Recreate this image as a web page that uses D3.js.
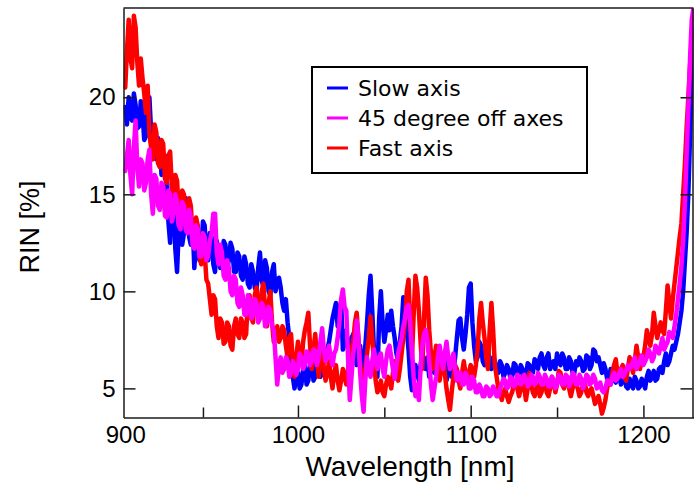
<!DOCTYPE html>
<html>
<head>
<meta charset="utf-8">
<script src="https://cdn.jsdelivr.net/npm/d3@7"></script>
<style>
  html, body { margin: 0; padding: 0; background: #fff; }
  svg { display: block; }
</style>
</head>
<body>
<svg id="chart" width="694" height="484"></svg>
<script>
// ---- data (one reading per nm, 900 .. 1229 nm) ----
const wavelengthStart = 900;
const wavelengthStep = 1;
const slowAxis = [
  19.5,18.6,20.0,19.0,18.8,20.2,19.6,18.4,18.5,19.8,
  19.2,17.8,18.0,19.4,20.0,18.2,17.5,18.4,16.8,17.9,
  17.6,16.0,16.2,17.0,15.4,13.6,12.5,15.6,14.8,12.2,
  11.0,13.2,14.2,12.4,13.0,14.8,14.6,12.8,12.4,13.6,
  11.2,12.6,13.0,11.6,12.0,13.6,13.4,11.8,11.6,13.0,
  12.8,11.4,11.0,12.6,12.0,11.2,11.4,12.6,12.4,11.2,
  11.6,12.5,12.2,11.0,11.0,12.0,11.8,10.8,10.6,11.8,
  11.4,10.4,10.2,11.4,11.0,10.2,10.0,11.2,12.0,10.6,
  10.2,11.6,11.2,10.0,9.8,11.0,11.4,10.0,10.4,10.7,
  10.2,9.4,9.0,9.6,8.4,7.6,6.6,5.6,5.0,5.6,
  5.8,5.0,5.2,6.0,6.2,5.2,5.4,6.2,6.4,5.4,
  5.6,6.4,6.8,5.6,5.8,6.8,6.4,7.0,7.4,8.0,
  8.6,9.0,9.4,8.2,8.8,9.5,7.0,7.6,8.0,7.0,
  6.8,7.6,7.8,6.8,6.2,7.0,7.2,6.2,6.0,7.2,
  8.4,9.8,10.8,9.0,7.0,5.7,5.6,8.6,10.0,8.4,
  7.4,8.0,8.8,8.0,9.0,8.2,7.6,6.8,6.4,7.4,
  8.2,9.7,9.6,8.0,7.0,5.6,4.9,5.6,6.2,5.8,
  5.4,6.2,6.8,6.4,6.0,6.6,5.6,6.0,6.4,5.8,
  5.8,6.6,6.6,6.0,6.0,6.4,5.4,5.8,6.2,5.6,
  5.8,6.6,7.6,8.5,8.6,7.6,7.0,7.8,8.8,10.2,
  10.4,8.4,7.2,6.4,6.6,7.4,7.2,6.4,6.2,7.2,
  7.0,6.2,6.0,6.6,6.4,5.8,5.8,6.4,6.2,5.6,
  5.8,6.2,6.0,5.5,5.6,6.3,6.2,5.6,5.8,6.2,
  6.0,5.5,5.6,6.3,6.2,5.7,5.8,6.5,6.4,6.0,
  6.6,6.8,6.2,6.0,6.6,6.8,6.0,6.2,6.4,6.0,
  6.8,6.4,6.2,6.8,6.6,6.0,6.0,6.6,6.4,5.8,
  5.8,6.4,6.2,6.6,6.4,5.9,6.0,6.7,6.6,6.0,
  6.2,7.0,6.9,6.4,6.6,6.2,5.8,6.3,6.0,5.5,
  5.4,6.0,5.9,5.4,5.3,5.9,5.7,5.2,5.4,5.8,
  5.1,5.0,5.5,5.2,5.0,5.6,5.4,5.0,5.1,5.5,
  5.3,5.0,5.6,5.9,5.4,5.6,5.9,5.4,5.5,6.0,
  6.1,5.8,6.4,6.8,6.2,6.4,6.8,7.2,7.0,7.4,
  7.8,8.4,9.0,10.0,11.5,13.0,15.0,18.0,21.0,23.5
];
const offAxes45 = [
  16.2,17.0,17.8,16.0,15.0,17.4,18.8,16.4,15.4,16.8,
  16.6,15.2,15.6,16.8,17.3,15.0,14.0,16.0,15.8,14.4,
  14.2,15.6,15.4,13.9,13.8,15.2,15.0,13.6,14.0,15.0,
  14.6,13.4,13.2,14.6,14.4,13.2,13.0,14.2,13.8,12.4,
  12.2,13.4,13.2,11.8,11.8,13.0,12.8,11.6,11.8,12.6,
  13.0,14.0,14.0,12.0,11.4,12.4,12.0,10.8,10.6,11.6,
  11.2,10.0,9.8,10.8,10.6,9.4,9.2,10.2,9.8,8.8,
  8.8,9.8,9.6,8.6,8.8,9.6,9.4,8.4,8.6,9.4,
  9.2,8.2,8.4,9.2,9.0,8.2,8.0,6.6,5.2,6.2,
  6.6,5.8,6.0,6.6,6.4,5.6,5.8,6.4,6.2,5.7,
  6.0,6.8,6.6,6.0,6.2,6.9,6.8,6.2,6.4,7.0,
  6.9,6.2,6.6,7.4,8.1,7.0,6.4,6.8,7.2,6.6,
  6.2,6.8,7.0,7.6,8.4,9.6,10.1,9.2,9.0,6.6,
  4.4,5.6,6.8,7.4,8.5,7.6,5.8,4.6,3.8,5.4,
  6.6,6.0,5.6,6.4,7.0,6.4,6.0,6.6,6.8,6.0,
  5.6,6.4,7.0,7.2,6.6,6.0,5.5,6.2,6.8,7.2,
  7.6,8.2,8.6,9.2,9.3,8.4,7.0,5.6,4.6,5.2,
  4.4,6.0,7.2,7.8,8.0,7.4,6.4,5.2,4.4,5.0,
  5.6,6.6,7.2,6.6,6.0,6.8,7.4,6.6,6.0,6.4,
  6.8,6.0,5.4,5.8,5.8,5.2,5.2,5.8,5.6,5.0,
  5.0,5.6,5.4,4.8,4.8,5.2,5.0,4.6,4.6,5.1,
  5.0,4.6,4.7,5.1,4.9,4.6,4.6,5.0,5.2,5.5,
  5.4,5.0,5.1,5.6,5.5,5.1,5.2,5.7,5.6,5.2,
  5.3,5.7,5.5,5.1,5.2,5.7,5.6,5.2,5.3,5.8,
  5.6,5.2,5.2,5.7,5.5,5.1,5.1,5.6,5.4,5.0,
  5.2,5.7,5.6,5.2,5.2,5.7,5.6,5.1,5.3,5.8,
  5.7,5.2,5.2,5.7,5.5,5.0,5.2,5.7,5.6,5.2,
  5.3,5.7,5.5,5.0,5.1,5.3,4.9,4.8,5.0,5.4,
  5.3,5.2,5.6,5.8,5.4,5.5,5.8,6.0,5.6,5.7,
  5.9,6.2,6.0,6.1,6.4,6.6,6.0,6.2,6.4,6.7,
  6.2,6.4,6.6,7.0,6.8,6.4,6.6,7.2,7.0,6.8,
  7.2,7.6,7.0,7.2,7.4,7.9,7.8,7.6,8.2,8.8,
  9.6,10.4,11.3,12.6,14.5,17.0,19.5,22.0,24.0,24.6
];
const fastAxis = [
  20.5,22.4,24.0,22.0,21.5,24.2,23.6,21.8,20.6,22.0,
  21.0,20.2,19.2,20.6,18.1,17.4,16.8,18.6,18.2,16.6,
  16.4,17.8,17.6,15.8,15.6,17.0,17.2,15.4,15.0,16.0,
  15.7,14.2,13.8,15.2,15.0,13.4,13.6,14.8,14.4,12.8,
  12.6,13.8,13.4,11.8,11.4,12.4,12.0,10.6,10.4,9.6,
  8.8,9.8,9.6,8.2,7.6,8.6,8.4,7.3,7.4,8.4,
  8.2,7.2,7.0,8.2,8.6,7.8,7.6,8.6,8.4,7.6,
  7.8,9.6,9.8,8.6,8.4,9.8,10.2,9.0,8.6,10.0,
  10.4,9.0,8.2,9.4,10.0,8.4,7.4,7.8,8.2,7.4,
  7.6,8.2,8.0,7.2,6.6,7.6,7.8,6.4,5.6,6.6,
  7.4,6.6,6.2,7.4,8.0,8.4,8.9,7.2,6.0,7.0,
  7.8,6.6,5.6,6.6,7.2,6.0,5.4,5.8,6.4,5.6,
  5.0,5.8,6.2,5.4,4.9,5.4,6.0,5.6,5.2,6.0,
  6.6,7.0,7.4,8.4,8.9,7.6,6.2,5.6,5.0,6.0,
  6.8,7.6,8.7,7.6,6.4,5.4,4.8,5.0,5.4,4.8,
  4.6,5.2,5.6,5.4,5.0,5.8,6.4,6.0,5.4,6.0,
  6.8,7.6,8.4,10.0,10.6,8.4,6.6,8.8,10.8,10.2,
  9.0,7.4,6.0,8.6,10.7,9.8,8.0,6.8,6.0,6.6,
  7.2,6.2,5.4,6.0,6.6,5.8,5.0,4.4,3.9,4.8,
  5.6,6.2,6.0,5.4,5.0,5.8,6.4,5.8,5.4,5.8,
  6.2,5.8,5.6,6.2,7.0,8.6,9.4,8.4,7.6,6.6,
  6.0,8.0,9.4,8.0,6.2,5.6,5.0,4.8,4.4,4.8,
  5.0,4.6,4.3,4.6,4.8,5.2,5.4,5.0,4.6,5.0,
  5.6,5.0,4.4,5.0,5.8,5.2,4.8,4.6,5.0,5.4,
  4.6,4.8,5.2,5.4,4.8,4.6,5.0,5.6,5.4,4.8,
  5.2,5.9,5.8,5.2,5.0,5.4,5.6,5.0,4.6,5.0,
  5.4,5.2,5.0,4.6,4.8,5.2,5.4,4.8,4.6,4.9,
  5.0,4.6,4.2,4.4,4.6,4.2,3.7,4.0,4.4,5.0,
  5.4,5.2,5.8,6.2,6.5,5.8,5.6,6.0,6.2,5.6,
  5.4,6.0,6.6,6.2,5.8,6.4,7.2,6.6,6.0,6.4,
  6.6,7.2,8.0,7.6,7.2,7.8,8.9,8.2,7.6,8.0,
  8.4,8.0,7.8,9.0,10.3,9.4,8.6,9.6,10.4,11.2,
  12.0,12.8,13.5,15.0,16.5,18.4,20.0,21.6,23.0,24.6
];
const seriesNames = ["Slow axis", "45 degree off axes", "Fast axis"];
const seriesColors = ["#0000ff", "#ff00ff", "#ff0000"];
const xMajorTicks = [900, 1000, 1100, 1200];
const xMinorTicks = [945, 1050, 1150];
const yTicks = [5, 10, 15, 20];

// ---- layout ----
const svg = d3.select("#chart");
const plot = { left: 123.5, right: 693.5, top: 8, bottom: 417.5 };

const x = d3.scaleLinear().domain([899, 1229]).range([plot.left, plot.right]);
const y = d3.scaleLinear().domain([3.5, 24.6]).range([plot.bottom, plot.top]);

svg.append("defs").append("clipPath").attr("id", "clip")
  .append("rect")
  .attr("x", plot.left).attr("y", plot.top)
  .attr("width", plot.right - plot.left).attr("height", plot.bottom - plot.top);

const line = d3.line()
  .x((d, i) => x(wavelengthStart + i * wavelengthStep))
  .y(d => y(d));

// drawing order: blue, red, magenta on top
const seriesData = [slowAxis, fastAxis, offAxes45];
const drawColors = [seriesColors[0], seriesColors[2], seriesColors[1]];

const g = svg.append("g").attr("clip-path", "url(#clip)");
seriesData.forEach((s, k) => {
  g.append("path")
    .datum(s)
    .attr("d", line)
    .attr("fill", "none")
    .attr("stroke", drawColors[k])
    .attr("stroke-width", 4.5)
    .attr("stroke-linejoin", "round")
    .attr("stroke-linecap", "round");
});

// ---- axes / frame ----
const axisColor = "#1a1a1a";
const tickFont = "Liberation Sans, Arial, sans-serif";

const xAxis = d3.axisBottom(x).tickValues(xMajorTicks).tickSizeInner(-12).tickSizeOuter(0)
  .tickPadding(8).tickFormat(d3.format("d"));
const gx = svg.append("g").attr("transform", `translate(0,${plot.bottom})`).call(xAxis);
gx.select(".domain").attr("stroke", axisColor).attr("stroke-width", 1.5);
gx.selectAll(".tick line").attr("stroke", axisColor).attr("stroke-width", 1.5)
  .filter(d => d === 900).remove();
gx.selectAll(".tick text").attr("font-family", tickFont).attr("font-size", 24).attr("fill", "#000");

const xMinor = d3.axisBottom(x).tickValues(xMinorTicks).tickSizeInner(-10).tickSizeOuter(0).tickFormat("");
const gxm = svg.append("g").attr("transform", `translate(0,${plot.bottom})`).call(xMinor);
gxm.select(".domain").remove();
gxm.selectAll(".tick line").attr("stroke", axisColor).attr("stroke-width", 1.5);

const yAxis = d3.axisLeft(y).tickValues(yTicks).tickSizeInner(-12).tickSizeOuter(0).tickPadding(8);
const gy = svg.append("g").attr("transform", `translate(${plot.left},0)`).call(yAxis);
gy.select(".domain").attr("stroke", axisColor).attr("stroke-width", 1.5);
gy.selectAll(".tick line").attr("stroke", axisColor).attr("stroke-width", 1.5);
gy.selectAll(".tick text").attr("font-family", tickFont).attr("font-size", 24).attr("fill", "#000");

const yRight = d3.axisRight(y).tickValues(yTicks).tickSizeInner(-12).tickSizeOuter(0).tickFormat("");
const gyr = svg.append("g").attr("transform", `translate(${plot.right - 1},0)`).call(yRight);
gyr.select(".domain").attr("stroke", axisColor).attr("stroke-width", 1.5);
gyr.selectAll(".tick line").attr("stroke", axisColor).attr("stroke-width", 1.5);

svg.append("line")
  .attr("x1", plot.left).attr("x2", plot.right).attr("y1", plot.top).attr("y2", plot.top)
  .attr("stroke", axisColor).attr("stroke-width", 1.5);

// axis titles
svg.append("text")
  .attr("x", 410).attr("y", 476)
  .attr("text-anchor", "middle")
  .attr("font-family", tickFont).attr("font-size", 28).attr("fill", "#000")
  .text("Wavelength [nm]");

svg.append("text")
  .attr("transform", "translate(39,227) rotate(-90)")
  .attr("text-anchor", "middle")
  .attr("font-family", tickFont).attr("font-size", 27).attr("fill", "#000")
  .text("RIN [%]");

// ---- legend ----
const legend = svg.append("g");
legend.append("rect")
  .attr("x", 312).attr("y", 67).attr("width", 275).attr("height", 106)
  .attr("fill", "#fff").attr("stroke", "#000").attr("stroke-width", 2);
seriesNames.forEach((name, i) => {
  const yy = 88 + i * 30;
  legend.append("line")
    .attr("x1", 327).attr("x2", 348).attr("y1", yy).attr("y2", yy)
    .attr("stroke", seriesColors[i]).attr("stroke-width", 3);
  legend.append("text")
    .attr("x", 358).attr("y", yy + 7.5)
    .attr("font-family", "DejaVu Sans, sans-serif").attr("font-size", 22).attr("fill", "#000")
    .text(name);
});
</script>
</body>
</html>
